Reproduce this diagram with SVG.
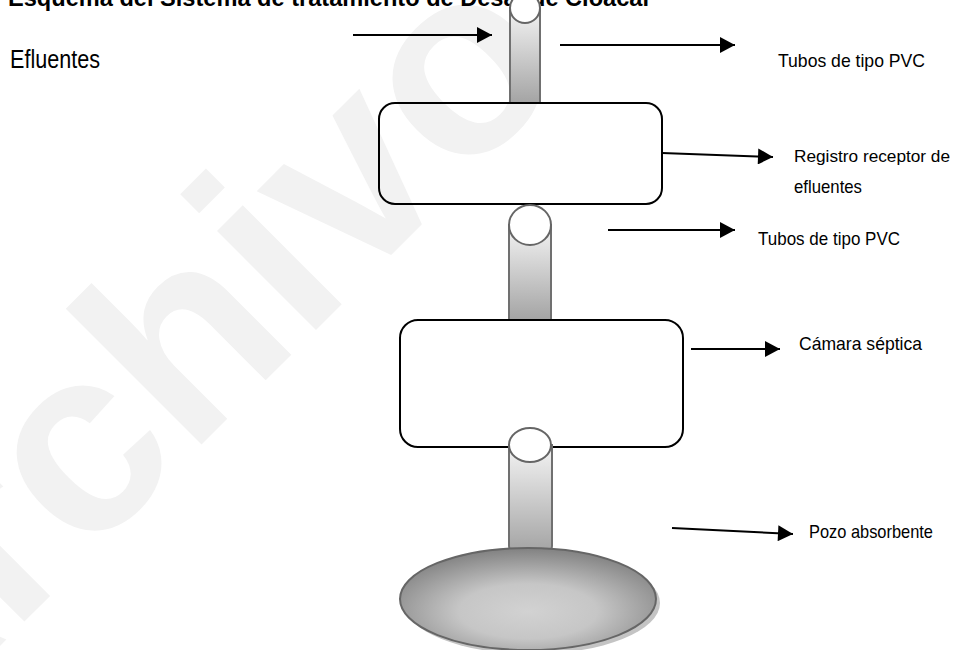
<svg xmlns="http://www.w3.org/2000/svg" width="954" height="650" viewBox="0 0 954 650">
  <style>
    .lbl { font-family: "Liberation Sans", Arial, sans-serif; font-size: 18.5px; fill: #000; }
    .box { fill: none; stroke: #000; stroke-width: 2; }
    .pipe { fill: url(#pipeGrad); stroke: #707070; stroke-width: 2; }
    .cap { fill: #fff; stroke: #666; stroke-width: 2; }
    .arr { stroke: #000; stroke-width: 2; fill: none; marker-end: url(#ah); }
  </style>
  <defs>
    <marker id="ah" markerUnits="userSpaceOnUse" markerWidth="16" markerHeight="16" viewBox="0 0 15 16" refX="15" refY="8" orient="auto">
      <path d="M0,0 L15,8 L0,16 Z" fill="#000"/>
    </marker>
    <linearGradient id="pipeGrad" x1="0" y1="0" x2="0" y2="1">
      <stop offset="0" stop-color="#f4f4f4"/>
      <stop offset="1" stop-color="#a4a4a4"/>
    </linearGradient>
    <radialGradient id="pozoGrad" cx="0.5" cy="0.62" r="0.6">
      <stop offset="0" stop-color="#d2d2d2"/>
      <stop offset="0.45" stop-color="#c6c6c6"/>
      <stop offset="1" stop-color="#858585"/>
    </radialGradient>
  </defs>

  <rect width="954" height="650" fill="#fff"/>

  <!-- watermark -->
  <text transform="translate(-124,770) rotate(-45)" font-family="Liberation Sans, Arial, sans-serif" font-weight="bold" font-size="265" fill="#f2f2f2">Archivo</text>

  <!-- title -->
  <text x="8" y="6" font-family="Liberation Sans, Arial, sans-serif" font-weight="bold" font-size="23" textLength="641" lengthAdjust="spacingAndGlyphs">Esquema del Sistema de tratamiento de Desagüe Cloacal</text>

  <text id="efluentes" x="10" y="68" font-family="Liberation Sans, Arial, sans-serif" font-size="26" textLength="90" lengthAdjust="spacingAndGlyphs">Efluentes</text>

  <!-- pipe 1 -->
  <g id="tubo1">
    <path class="pipe" d="M510,8 L510,103 L540,103 L540,8 Z"/>
    <ellipse class="cap" cx="525" cy="8" rx="15" ry="15"/>
  </g>

  <!-- box 1 -->
  <g id="registro">
    <rect class="box" x="379" y="103" width="283" height="101" rx="16" ry="16"/>
  </g>

  <!-- pipe 2 -->
  <g id="tubo2">
    <path class="pipe" d="M509,225 L509,320 L551,320 L551,225 Z"/>
    <ellipse class="cap" cx="530" cy="225" rx="21" ry="20"/>
  </g>

  <!-- box 2 -->
  <g id="camara">
    <rect class="box" x="400" y="320" width="283" height="127" rx="18" ry="18"/>
  </g>

  <!-- pipe 3 -->
  <g id="tubo3">
    <path class="pipe" d="M509,445 L509,546 Q509,552 515,552 L546,552 Q552,552 552,546 L552,445 Z"/>
    <ellipse class="cap" cx="530" cy="445" rx="21" ry="17"/>
  </g>

  <!-- pozo -->
  <g id="pozo">
    <ellipse cx="532" cy="603" rx="128" ry="51" fill="#c4c4c4"/>
    <ellipse cx="528" cy="599" rx="128" ry="51" fill="url(#pozoGrad)" stroke="#666" stroke-width="2"/>
  </g>

  <!-- connectors -->
  <g id="connectors">
    <line class="arr" x1="353" y1="35" x2="492" y2="35"/>
    <line class="arr" x1="560" y1="45" x2="735" y2="45"/>
    <path class="arr" d="M662,153 L773,157"/>
    <line class="arr" x1="608" y1="230" x2="735" y2="230"/>
    <line class="arr" x1="691" y1="349" x2="780" y2="349"/>
    <path class="arr" d="M672,528 L793,534"/>
  </g>

  <!-- labels -->
  <g id="labels">
    <text class="lbl" x="778" y="67" textLength="147" lengthAdjust="spacingAndGlyphs">Tubos de tipo PVC</text>
    <text class="lbl" x="794" y="162" style="font-size:17.4px" textLength="156" lengthAdjust="spacingAndGlyphs">Registro receptor de</text>
    <text class="lbl" x="794" y="193" textLength="68" lengthAdjust="spacingAndGlyphs">efluentes</text>
    <text class="lbl" x="758" y="245" textLength="142" lengthAdjust="spacingAndGlyphs">Tubos de tipo PVC</text>
    <text class="lbl" x="799" y="350" textLength="123" lengthAdjust="spacingAndGlyphs">Cámara séptica</text>
    <text class="lbl" x="809" y="538" textLength="124" lengthAdjust="spacingAndGlyphs">Pozo absorbente</text>
  </g>
</svg>
